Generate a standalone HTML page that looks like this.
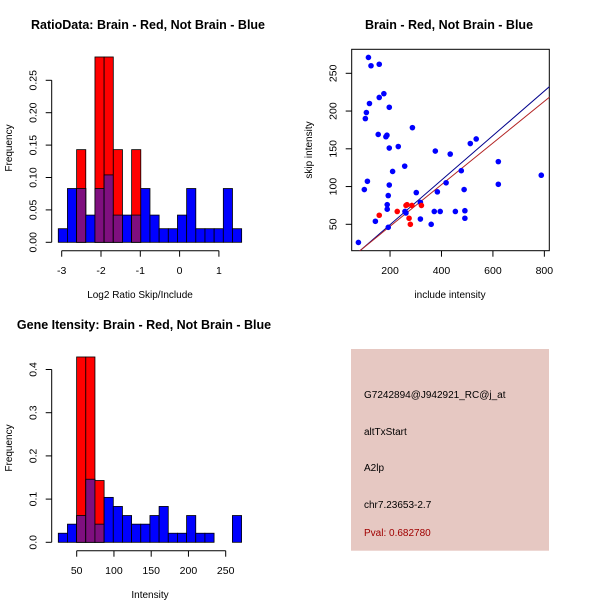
<!DOCTYPE html>
<html><head><meta charset="utf-8"><style>
body{margin:0;background:#fff}
svg{display:block;font-family:"Liberation Sans",sans-serif}
</style></head><body>
<svg id="c" width="600" height="600" xmlns="http://www.w3.org/2000/svg">
<defs><clipPath id="sc"><rect x="351.7" y="49.3" width="197.6" height="201.4"/></clipPath></defs>
<text x="148" y="29" font-size="12.5" font-weight="bold" text-anchor="middle">RatioData: Brain - Red, Not Brain - Blue</text>
<text x="140" y="298" font-size="10" text-anchor="middle">Log2 Ratio Skip/Include</text>
<text transform="translate(12,148) rotate(-90)" font-size="10" text-anchor="middle">Frequency</text>
<text x="449" y="29" font-size="12.5" font-weight="bold" text-anchor="middle">Brain - Red, Not Brain - Blue</text>
<text x="450" y="298" font-size="10" text-anchor="middle">include intensity</text>
<text transform="translate(312,150) rotate(-90)" font-size="10" text-anchor="middle">skip intensity</text>
<rect x="351.7" y="49.3" width="197.6" height="201.4" fill="none" stroke="#000"/>
<text x="144" y="329" font-size="12.5" font-weight="bold" text-anchor="middle">Gene Itensity: Brain - Red, Not Brain - Blue</text>
<text x="150" y="598" font-size="10" text-anchor="middle">Intensity</text>
<text transform="translate(12,448) rotate(-90)" font-size="10" text-anchor="middle">Frequency</text>
<rect x="351" y="349" width="198" height="201.7" fill="#e6c8c2"/>
<g font-size="10">
<text x="364" y="398">G7242894@J942921_RC@j_at</text>
<text x="364" y="435">altTxStart</text>
<text x="364" y="471">A2lp</text>
<text x="364" y="508">chr7.23653-2.7</text>
<text x="364" y="536" fill="#a00000">Pval: 0.682780</text>
</g>
<g id="g"></g>
</svg>
<script>
// Ratio histogram
const ratioStart = -3.087, ratioWidth = 0.2333;
const ratioBlue = [0.021,0.083,0.083,0.042,0.083,0.104,0.042,0.042,0.042,0.083,0.042,0.021,0.021,0.042,0.083,0.021,0.021,0.021,0.083,0.021];
const ratioRed = [0,0,0.143,0,0.286,0.286,0.143,0,0.143,0,0,0,0,0,0,0,0,0,0,0];
const ratioXTicks = [-3,-2,-1,0,1];
const ratioYTicks = [0,0.05,0.10,0.15,0.20,0.25];
const ratioYLabels = ["0.00","0.05","0.10","0.15","0.20","0.25"];
// Intensity histogram
const intStart = 25.3, intWidth = 12.3;
const intBlue = [0.021,0.042,0.062,0.146,0.042,0.104,0.083,0.062,0.042,0.042,0.062,0.083,0.021,0.021,0.062,0.021,0.021,0,0,0.062];
const intRed = [0,0,0.429,0.429,0.143,0,0,0,0,0,0,0,0,0,0,0,0,0,0,0];
const intXTicks = [50,100,150,200,250];
const intYTicks = [0,0.1,0.2,0.3,0.4];
const intYLabels = ["0.0","0.1","0.2","0.3","0.4"];
// Scatter
const blueX = [77,116,126,158,176,158,120,108,104,154,184,188,197,287,197,232,257,210,112,100,197,193,189,189,193,143,302,258,262,318,318,360,372,395,376,384,434,418,454,477,488,491,491,512,535,621,621,788];
const blueY = [26,271,260,262,223,218,210,198,190,169,166,168,205,178,151,153,127,120,107,96,102,88,76,70,46,54,92,67,65,79,57,50,67,67,147,93,143,105,67,121,96,68,58,157,163,133,103,115];
const redX = [158,228,262,266,285,274,279,322];
const redY = [62,67,75,76,75,58,50,75];
const blueLine = [-9.5,0.295];
const redLine = [-7.9,0.276];
const scXTicks = [200,400,600,800];
const scYTicks = [50,100,150,200,250];

const NS="http://www.w3.org/2000/svg", G=document.getElementById('g');
function mk(t,a,p){const e=document.createElementNS(NS,t);for(const k in a)e.setAttribute(k,a[k]);(p||G).appendChild(e);return e;}

function hist(pre,start,width,blue,red,xs,ys,yl,sx,sy,axisX,axisY,xlabY){
  blue.forEach((b,i)=>{
    const r=red[i],x0=sx(start+i*width),x1=sx(start+(i+1)*width);
    if(b>0){const e=mk('rect',{x:x0,y:sy(b),width:x1-x0,height:sy(0)-sy(b),fill:'#0000ff',stroke:'#000','stroke-width':0.8});
      
      }
    if(r>0){const e=mk('rect',{x:x0,y:sy(r),width:x1-x0,height:sy(0)-sy(r),fill:'#ff0000',stroke:'#000','stroke-width':0.8});
      
      }
    const m=Math.min(b,r);
    if(m>0){const e=mk('rect',{x:x0,y:sy(m),width:x1-x0,height:sy(0)-sy(m),fill:'#7f0f7f',stroke:'#000','stroke-width':0.8});
      
      }
  });
  const xa=mk('line',{x1:sx(xs[0]),x2:sx(xs[xs.length-1]),y1:axisY,y2:axisY,stroke:'#000'});
  
  
  xs.forEach(v=>{mk('line',{x1:sx(v),x2:sx(v),y1:axisY,y2:axisY+6,stroke:'#000'});
    const t=mk('text',{x:sx(v),y:xlabY,'font-size':10.5,'text-anchor':'middle'});t.textContent=v;
    
    });
  const ya=mk('line',{x1:axisX,x2:axisX,y1:sy(ys[0]),y2:sy(ys[ys.length-1]),stroke:'#000'});
  
  
  ys.forEach((v,i)=>{mk('line',{x1:axisX-6,x2:axisX,y1:sy(v),y2:sy(v),stroke:'#000'});
    const t=mk('text',{transform:`translate(${axisX-15},${sy(v)}) rotate(-90)`,'font-size':10.5,'text-anchor':'middle'});t.textContent=yl[i];
    
    });
}
hist('ratio',ratioStart,ratioWidth,ratioBlue,ratioRed,ratioXTicks,ratioYTicks,ratioYLabels,
  v=>61.7+(v+3)*39.3, v=>242.3-v*648, 51.7,250.7,274);
hist('intensity',intStart,intWidth,intBlue,intRed,intXTicks,intYTicks,intYLabels,
  v=>76.7+(v-50)*0.745, v=>542.3-v*432, 51.7,550.7,574);

// scatter
const px=v=>338.6+v*0.2572, py=v=>224.3-(v-50)*0.755;
const cg=mk('g',{'clip-path':'url(#sc)'});
const bl=mk('line',{x1:px(0),y1:py(blueLine[0]),x2:px(900),y2:py(blueLine[0]+blueLine[1]*900),stroke:'#00008b'},cg);


const rl=mk('line',{x1:px(0),y1:py(redLine[0]),x2:px(900),y2:py(redLine[0]+redLine[1]*900),stroke:'#b22222'},cg);


blueX.forEach((v,i)=>{const c=mk('circle',{cx:px(v),cy:py(blueY[i]),r:2.8,fill:'#0000ff'});
  
  });
redX.forEach((v,i)=>{const c=mk('circle',{cx:px(v),cy:py(redY[i]),r:2.8,fill:'#ff0000'});
  
  });
scXTicks.forEach(v=>{mk('line',{x1:px(v),x2:px(v),y1:250.7,y2:256.7,stroke:'#000'});
  const t=mk('text',{x:px(v),y:274,'font-size':10.5,'text-anchor':'middle'});t.textContent=v;
  
  });
scYTicks.forEach(v=>{mk('line',{x1:345.7,x2:351.7,y1:py(v),y2:py(v),stroke:'#000'});
  const t=mk('text',{transform:`translate(336.7,${py(v)}) rotate(-90)`,'font-size':10.5,'text-anchor':'middle'});t.textContent=v;
  
  });
</script>
</body></html>
